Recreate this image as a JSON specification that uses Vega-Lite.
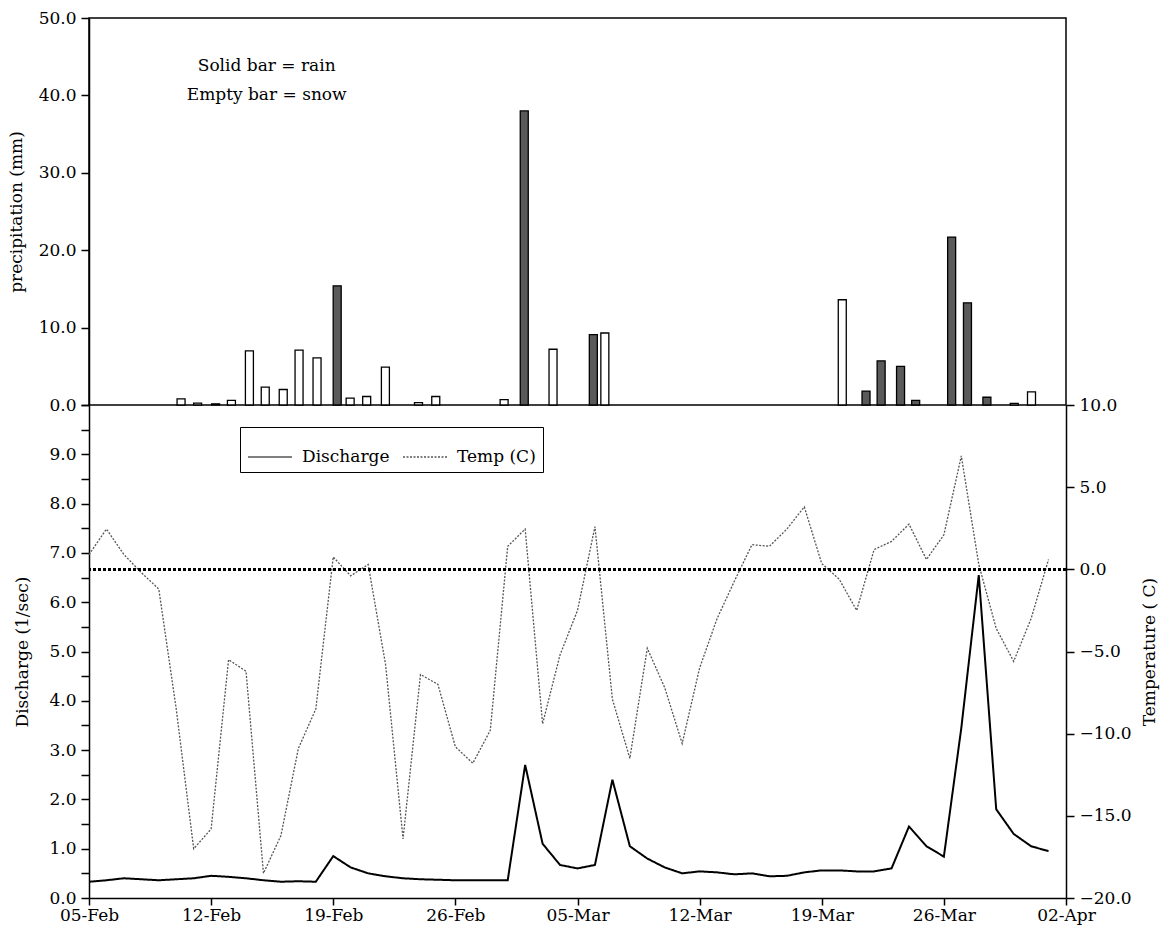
{
  "$schema": "https://vega.github.io/schema/vega-lite/v6.json",
  "padding": {"left": 6, "top": 8, "right": 5, "bottom": 5},
  "bounds": "flush",
  "spacing": 0,
  "datasets": {
    "precip": [
      {"date": "1993-02-10T01:00", "mm": 0.8, "kind": "snow"},
      {"date": "1993-02-11T00:00", "mm": 0.25, "kind": "snow"},
      {"date": "1993-02-12T01:00", "mm": 0.15, "kind": "snow"},
      {"date": "1993-02-12T23:00", "mm": 0.6, "kind": "snow"},
      {"date": "1993-02-14T00:00", "mm": 7.0, "kind": "snow"},
      {"date": "1993-02-14T22:00", "mm": 2.3, "kind": "snow"},
      {"date": "1993-02-15T23:00", "mm": 2.0, "kind": "snow"},
      {"date": "1993-02-16T21:00", "mm": 7.1, "kind": "snow"},
      {"date": "1993-02-17T22:00", "mm": 6.1, "kind": "snow"},
      {"date": "1993-02-19T02:00", "mm": 15.4, "kind": "rain"},
      {"date": "1993-02-19T20:00", "mm": 0.9, "kind": "snow"},
      {"date": "1993-02-20T19:00", "mm": 1.1, "kind": "snow"},
      {"date": "1993-02-21T21:00", "mm": 4.9, "kind": "snow"},
      {"date": "1993-02-23T19:00", "mm": 0.3, "kind": "snow"},
      {"date": "1993-02-24T19:00", "mm": 1.1, "kind": "snow"},
      {"date": "1993-02-28T18:00", "mm": 0.7, "kind": "snow"},
      {"date": "1993-03-01T22:00", "mm": 38.0, "kind": "rain"},
      {"date": "1993-03-03T14:00", "mm": 7.2, "kind": "snow"},
      {"date": "1993-03-05T22:00", "mm": 9.1, "kind": "rain"},
      {"date": "1993-03-06T14:00", "mm": 9.3, "kind": "snow"},
      {"date": "1993-03-20T08:00", "mm": 13.6, "kind": "snow"},
      {"date": "1993-03-21T17:00", "mm": 1.8, "kind": "rain"},
      {"date": "1993-03-22T14:00", "mm": 5.7, "kind": "rain"},
      {"date": "1993-03-23T17:00", "mm": 5.0, "kind": "rain"},
      {"date": "1993-03-24T14:00", "mm": 0.6, "kind": "rain"},
      {"date": "1993-03-26T16:00", "mm": 21.7, "kind": "rain"},
      {"date": "1993-03-27T14:00", "mm": 13.2, "kind": "rain"},
      {"date": "1993-03-28T17:00", "mm": 1.0, "kind": "rain"},
      {"date": "1993-03-30T07:00", "mm": 0.2, "kind": "snow"},
      {"date": "1993-03-31T07:00", "mm": 1.7, "kind": "snow"}
    ],
    "daily": [
      {"date": "1993-02-05T00:00", "discharge": 0.33, "temp": 0.9},
      {"date": "1993-02-06T00:00", "discharge": 0.36, "temp": 2.45},
      {"date": "1993-02-07T00:00", "discharge": 0.40, "temp": 0.9},
      {"date": "1993-02-08T00:00", "discharge": 0.38, "temp": -0.2},
      {"date": "1993-02-09T00:00", "discharge": 0.36, "temp": -1.2},
      {"date": "1993-02-10T00:00", "discharge": 0.38, "temp": -8.5},
      {"date": "1993-02-11T00:00", "discharge": 0.40, "temp": -17.0},
      {"date": "1993-02-12T00:00", "discharge": 0.45, "temp": -15.8},
      {"date": "1993-02-13T00:00", "discharge": 0.43, "temp": -5.5},
      {"date": "1993-02-14T00:00", "discharge": 0.40, "temp": -6.2},
      {"date": "1993-02-15T00:00", "discharge": 0.36, "temp": -18.5},
      {"date": "1993-02-16T00:00", "discharge": 0.33, "temp": -16.2},
      {"date": "1993-02-17T00:00", "discharge": 0.34, "temp": -10.9},
      {"date": "1993-02-18T00:00", "discharge": 0.33, "temp": -8.5},
      {"date": "1993-02-19T00:00", "discharge": 0.85, "temp": 0.75},
      {"date": "1993-02-20T00:00", "discharge": 0.62, "temp": -0.4},
      {"date": "1993-02-21T00:00", "discharge": 0.50, "temp": 0.3},
      {"date": "1993-02-22T00:00", "discharge": 0.44, "temp": -5.8},
      {"date": "1993-02-23T00:00", "discharge": 0.40, "temp": -16.4},
      {"date": "1993-02-24T00:00", "discharge": 0.38, "temp": -6.4},
      {"date": "1993-02-25T00:00", "discharge": 0.37, "temp": -7.0},
      {"date": "1993-02-26T00:00", "discharge": 0.36, "temp": -10.8},
      {"date": "1993-02-27T00:00", "discharge": 0.36, "temp": -11.8},
      {"date": "1993-02-28T00:00", "discharge": 0.36, "temp": -9.8},
      {"date": "1993-03-01T00:00", "discharge": 0.36, "temp": 1.4},
      {"date": "1993-03-02T00:00", "discharge": 2.7, "temp": 2.45},
      {"date": "1993-03-03T00:00", "discharge": 1.1, "temp": -9.4},
      {"date": "1993-03-04T00:00", "discharge": 0.67, "temp": -5.2},
      {"date": "1993-03-05T00:00", "discharge": 0.6, "temp": -2.5},
      {"date": "1993-03-06T00:00", "discharge": 0.67, "temp": 2.6},
      {"date": "1993-03-07T00:00", "discharge": 2.4, "temp": -7.9},
      {"date": "1993-03-08T00:00", "discharge": 1.05, "temp": -11.5},
      {"date": "1993-03-09T00:00", "discharge": 0.8, "temp": -4.8},
      {"date": "1993-03-10T00:00", "discharge": 0.62, "temp": -7.2},
      {"date": "1993-03-11T00:00", "discharge": 0.5, "temp": -10.6},
      {"date": "1993-03-12T00:00", "discharge": 0.54, "temp": -6.0},
      {"date": "1993-03-13T00:00", "discharge": 0.52, "temp": -3.0},
      {"date": "1993-03-14T00:00", "discharge": 0.48, "temp": -0.7},
      {"date": "1993-03-15T00:00", "discharge": 0.5, "temp": 1.5},
      {"date": "1993-03-16T00:00", "discharge": 0.44, "temp": 1.4},
      {"date": "1993-03-17T00:00", "discharge": 0.45, "temp": 2.45},
      {"date": "1993-03-18T00:00", "discharge": 0.52, "temp": 3.8},
      {"date": "1993-03-19T00:00", "discharge": 0.56, "temp": 0.35},
      {"date": "1993-03-20T00:00", "discharge": 0.56, "temp": -0.6},
      {"date": "1993-03-21T00:00", "discharge": 0.54, "temp": -2.5},
      {"date": "1993-03-22T00:00", "discharge": 0.54, "temp": 1.2},
      {"date": "1993-03-23T00:00", "discharge": 0.6, "temp": 1.7},
      {"date": "1993-03-24T00:00", "discharge": 1.45, "temp": 2.75},
      {"date": "1993-03-25T00:00", "discharge": 1.05, "temp": 0.6},
      {"date": "1993-03-26T00:00", "discharge": 0.84, "temp": 2.1},
      {"date": "1993-03-27T00:00", "discharge": 3.45, "temp": 6.9},
      {"date": "1993-03-28T00:00", "discharge": 6.55, "temp": 0.3},
      {"date": "1993-03-29T00:00", "discharge": 1.8, "temp": -3.6},
      {"date": "1993-03-30T00:00", "discharge": 1.3, "temp": -5.6},
      {"date": "1993-03-31T00:00", "discharge": 1.05, "temp": -3.0},
      {"date": "1993-04-01T00:00", "discharge": 0.95, "temp": 0.6}
    ]
  },
  "resolve": {
    "scale": {"strokeDash": "independent", "fill": "independent"},
    "legend": {"strokeDash": "independent", "fill": "independent"}
  },
  "vconcat": [
    {
      "width": 977,
      "height": 387,
      "view": {"stroke": "black", "strokeWidth": 1.5},
      "layer": [
        {
          "data": {"name": "precip"},
          "mark": {"type": "bar", "size": 8, "stroke": "black", "strokeWidth": 1.3},
          "encoding": {
            "x": {
              "field": "date", "type": "temporal",
              "scale": {"domain": [{"year": 1993, "month": "feb", "date": 5}, {"year": 1993, "month": "apr", "date": 2}], "nice": false},
              "axis": null
            },
            "y": {
              "field": "mm", "type": "quantitative",
              "scale": {"domain": [0, 50], "nice": false, "zero": true},
              "axis": {
                "title": "precipitation (mm)",
                "values": [0, 5, 10, 15, 20, 25, 30, 35, 40, 45, 50],
                "labelExpr": "datum.value % 10 === 0 ? format(datum.value, '.1f') : ''",
                "titlePadding": 13
              }
            },
            "fill": {
              "field": "kind", "type": "nominal",
              "scale": {"domain": ["rain", "snow"], "range": ["#5a5a5a", "white"]},
              "legend": null
            }
          }
        },
        {
          "data": {"values": [{}]},
          "mark": {"type": "text", "text": "Solid bar = rain", "fontSize": 17, "font": "DejaVu Serif", "align": "center", "baseline": "middle", "color": "black"},
          "encoding": {
            "x": {"datum": {"year": 1993, "month": "feb", "date": 15}, "type": "temporal"},
            "y": {"datum": 43.8, "type": "quantitative"}
          }
        },
        {
          "data": {"values": [{}]},
          "mark": {"type": "text", "text": "Empty bar = snow", "fontSize": 17, "font": "DejaVu Serif", "align": "center", "baseline": "middle", "color": "black"},
          "encoding": {
            "x": {"datum": {"year": 1993, "month": "feb", "date": 15}, "type": "temporal"},
            "y": {"datum": 40.1, "type": "quantitative"}
          }
        }
      ]
    },
    {
      "width": 977,
      "height": 493,
      "data": {"name": "daily"},
      "resolve": {"scale": {"y": "independent"}},
      "layer": [
        {
          "mark": {"type": "line", "color": "black", "strokeWidth": 2},
          "encoding": {
            "x": {
              "field": "date", "type": "temporal",
              "scale": {"domain": [{"year": 1993, "month": "feb", "date": 5}, {"year": 1993, "month": "apr", "date": 2}], "nice": false},
              "axis": {
                "title": null,
                "format": "%d-%b",
                "values": [
                  {"year": 1993, "month": "feb", "date": 5},
                  {"year": 1993, "month": "feb", "date": 12},
                  {"year": 1993, "month": "feb", "date": 19},
                  {"year": 1993, "month": "feb", "date": 26},
                  {"year": 1993, "month": "mar", "date": 5},
                  {"year": 1993, "month": "mar", "date": 12},
                  {"year": 1993, "month": "mar", "date": 19},
                  {"year": 1993, "month": "mar", "date": 26},
                  {"year": 1993, "month": "apr", "date": 2}
                ],
                "labelFlush": false,
                "labelOverlap": false,
                "tickSize": 7,
                "labelPadding": 2
              }
            },
            "y": {
              "field": "discharge", "type": "quantitative",
              "scale": {"domain": [0, 10], "nice": false},
              "axis": {
                "orient": "left",
                "title": "Discharge (1/sec)",
                "values": [0, 0.5, 1, 1.5, 2, 2.5, 3, 3.5, 4, 4.5, 5, 5.5, 6, 6.5, 7, 7.5, 8, 8.5, 9, 9.5, 10],
                "labelExpr": "(datum.value % 1 === 0 && datum.value < 10) ? format(datum.value, '.1f') : ''",
                "titlePadding": 17
              }
            },
            "strokeDash": {
              "datum": "Discharge", "type": "nominal",
              "scale": {"domain": ["Discharge", "Temp (C)"], "range": [[1, 0], [2, 1.5]]},
              "legend": {
                "title": null,
                "orient": "none",
                "legendX": 151,
                "legendY": 22,
                "direction": "horizontal",
                "columns": 2,
                "gridAlign": "each",
                "symbolType": "stroke",
                "symbolSize": 1936,
                "symbolStrokeColor": "black",
                "symbolStrokeWidth": 1.5,
                "labelFont": "DejaVu Serif",
                "labelFontSize": 17,
                "labelColor": "black",
                "labelOffset": 9,
                "labelExpr": "datum.label == 'Temp (C)' ? 'Temp (C)\u00a0\u00a0\u00a0\u00a0' : datum.label",
                "columnPadding": 10,
                "padding": 7,
                "strokeColor": "black",
                "fillColor": "white"
              }
            }
          }
        },
        {
          "mark": {"type": "line", "color": "#555555", "strokeWidth": 1.3},
          "encoding": {
            "x": {"field": "date", "type": "temporal"},
            "y": {
              "field": "temp", "type": "quantitative",
              "scale": {"domain": [-20, 10], "nice": false, "zero": false},
              "axis": {
                "orient": "right",
                "title": "Temperature ( C)",
                "titleAngle": -90,
                "titleBaseline": "top",
                "values": [-20, -15, -10, -5, 0, 5, 10],
                "format": ".1f",
                "titlePadding": 10
              }
            },
            "strokeDash": {"datum": "Temp (C)", "type": "nominal"}
          }
        },
        {
          "mark": {"type": "rule", "color": "black", "strokeWidth": 2, "strokeDash": [3, 2]},
          "encoding": {
            "y": {"datum": 0.0, "type": "quantitative", "scale": {"domain": [-20, 10], "nice": false, "zero": false}, "axis": null}
          }
        }
      ]
    }
  ],
  "config": {
    "font": "DejaVu Serif",
    "view": {"stroke": null},
    "axis": {
      "labelFont": "DejaVu Serif",
      "labelFontSize": 17,
      "labelColor": "black",
      "titleFont": "DejaVu Serif",
      "titleFontSize": 17,
      "titleFontWeight": "normal",
      "titleColor": "black",
      "domainColor": "black",
      "domainWidth": 1.5,
      "tickColor": "black",
      "tickWidth": 1.5,
      "tickSize": 8,
      "labelPadding": 5,
      "grid": false
    }
  }
}
